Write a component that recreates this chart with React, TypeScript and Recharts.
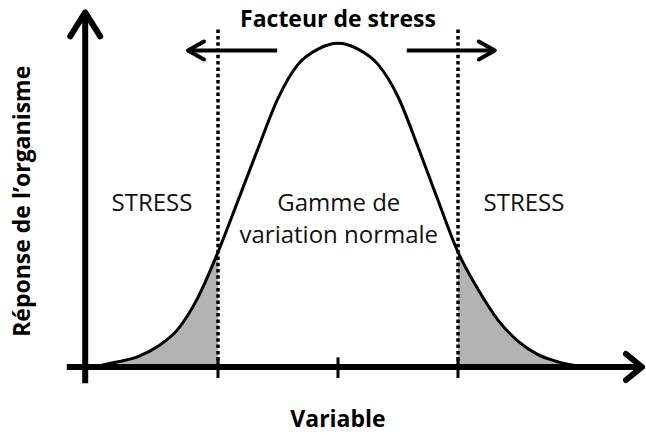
import React from 'react'
import {
  ComposedChart,
  Area,
  XAxis,
  YAxis,
  ReferenceLine,
  ReferenceDot,
} from 'recharts'

// variable (in "sigma" units, 0 = optimum) and organism response (1 = peak)
const variable = [
  -3.0, -2.75, -2.5, -2.25, -2.0, -1.75, -1.5, -1.25, -1.0, -0.75, -0.5, -0.25, 0,
  0.25, 0.5, 0.75, 1.0, 1.25, 1.5, 1.75, 2.0, 2.25, 2.5, 2.75, 3.0,
]
const response = [
  0.003, 0.016, 0.032, 0.064, 0.117, 0.215, 0.355, 0.514, 0.675, 0.83, 0.935, 0.982, 1.0,
  0.982, 0.935, 0.835, 0.68, 0.515, 0.355, 0.24, 0.145, 0.08, 0.038, 0.016, 0.003,
]
// limits of the normal range and the centre tick
const limits = [-1.5, 1.5]
const ticks = [-1.5, 0, 1.5]

const data = variable.map((x, i) => ({ x, response: response[i] }))

const xMin = variable[0]
const xMax = variable[variable.length - 1]
const lowOff = (limits[0] - xMin) / (xMax - xMin)
const highOff = (limits[1] - xMin) / (xMax - xMin)

const arrow = (head: number, half: number) => (props: any) => {
  const { x1, y1, x2, y2, stroke, strokeWidth } = props
  const dx = x2 - x1
  const dy = y2 - y1
  const len = Math.hypot(dx, dy) || 1
  const ux = dx / len
  const uy = dy / len
  const bx = x2 - ux * head
  const by = y2 - uy * head
  const px = -uy * half
  const py = ux * half
  return (
    <g>
      <line x1={x1} y1={y1} x2={x2 - ux * 2} y2={y2 - uy * 2} stroke={stroke} strokeWidth={strokeWidth} />
      <polyline
        points={`${bx + px},${by + py} ${x2},${y2} ${bx - px},${by - py}`}
        fill="none"
        stroke={stroke}
        strokeWidth={strokeWidth}
        strokeLinecap="round"
        strokeLinejoin="round"
      />
    </g>
  )
}

const bold = { fontSize: 23, fontWeight: 700, fill: '#000' }
const plain = { fontSize: 24, fill: '#111' }

export default function App() {
  return (
    <div style={{ width: 646, height: 435, background: '#fff', fontFamily: '"Open Sans", sans-serif' }}>
      <style>{'body{margin:0}'}</style>
      <ComposedChart width={646} height={435} data={data} margin={{ top: 11, right: 8, bottom: 68, left: 82 }}>
        <defs>
          <linearGradient id="tails" x1="0" y1="0" x2="1" y2="0">
            <stop offset={0} stopColor="#b3b3b3" />
            <stop offset={lowOff} stopColor="#b3b3b3" />
            <stop offset={lowOff} stopColor="#fff" stopOpacity={0} />
            <stop offset={highOff} stopColor="#fff" stopOpacity={0} />
            <stop offset={highOff} stopColor="#b3b3b3" />
            <stop offset={1} stopColor="#b3b3b3" />
          </linearGradient>
        </defs>
        <XAxis type="number" dataKey="x" domain={[-3.2, 3.75]} allowDataOverflow hide />
        <YAxis type="number" domain={[0, 1.1]} allowDataOverflow hide />
        <Area
          type="monotone"
          dataKey="response"
          stroke="#000"
          strokeWidth={3}
          fill="url(#tails)"
          fillOpacity={1}
          isAnimationActive={false}
        />

        {limits.map((l) => (
          <ReferenceLine
            key={'d' + l}
            segment={[{ x: l, y: 0 }, { x: l, y: 1.05 }]}
            stroke="#000"
            strokeWidth={3.5}
            strokeDasharray="3.5 2.8"
            ifOverflow="visible"
          />
        ))}
        {ticks.map((t) => (
          <ReferenceLine
            key={'t' + t}
            segment={[{ x: t, y: -0.034 }, { x: t, y: 0.03 }]}
            stroke="#000"
            strokeWidth={3}
            ifOverflow="visible"
          />
        ))}

        {/* axes with arrows */}
        <ReferenceLine
          segment={[{ x: -3.39, y: 0 }, { x: 3.8, y: 0 }]}
          stroke="#000"
          strokeWidth={6}
          ifOverflow="visible"
          shape={arrow(16, 13)}
        />
        <ReferenceLine
          segment={[{ x: -3.16, y: -0.05 }, { x: -3.16, y: 1.096 }]}
          stroke="#000"
          strokeWidth={6}
          ifOverflow="visible"
          shape={arrow(24, 15)}
        />

        {/* stress factor arrows */}
        <ReferenceLine
          segment={[{ x: -0.76, y: 0.978 }, { x: -1.875, y: 0.978 }]}
          stroke="#000"
          strokeWidth={4}
          ifOverflow="visible"
          shape={arrow(16, 9)}
        />
        <ReferenceLine
          segment={[{ x: 0.86, y: 0.978 }, { x: 1.96, y: 0.978 }]}
          stroke="#000"
          strokeWidth={4}
          ifOverflow="visible"
          shape={arrow(16, 9)}
        />

        <ReferenceDot x={0} y={1.076} r={0} ifOverflow="visible" label={{ value: 'Facteur de stress', position: 'center', ...bold }} />
        <ReferenceDot x={-2.325} y={0.508} r={0} ifOverflow="visible" label={{ value: 'STRESS', position: 'center', ...plain }} />
        <ReferenceDot x={2.325} y={0.508} r={0} ifOverflow="visible" label={{ value: 'STRESS', position: 'center', ...plain }} />
        <ReferenceDot x={0.01} y={0.508} r={0} ifOverflow="visible" label={{ value: 'Gamme de', position: 'center', ...plain }} />
        <ReferenceDot x={0.01} y={0.409} r={0} ifOverflow="visible" label={{ value: 'variation normale', position: 'center', ...plain }} />
        <ReferenceDot x={0} y={-0.159} r={0} ifOverflow="visible" label={{ value: 'Variable', position: 'center', ...bold }} />
        <ReferenceDot
          x={-3.95}
          y={0.512}
          r={0}
          ifOverflow="visible"
          label={{ value: 'Réponse de l’organisme', position: 'center', angle: -90, ...bold }}
        />
      </ComposedChart>
    </div>
  )
}
